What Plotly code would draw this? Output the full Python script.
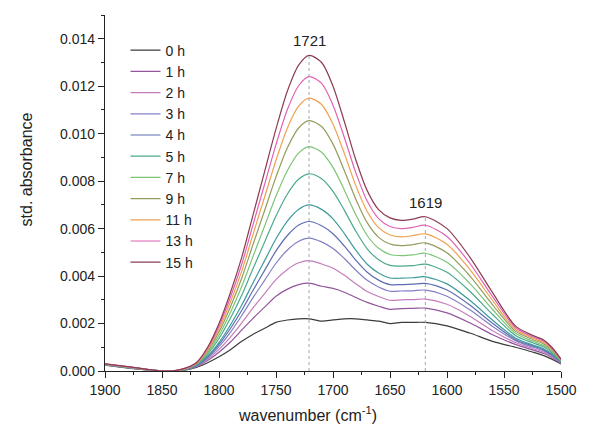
import numpy as np
import plotly.graph_objects as go

# wavenumber grid (cm-1)
wavenumber = [1900, 1875, 1850, 1835, 1820, 1810, 1800, 1790, 1780, 1770, 1760, 1750, 1740,
              1730, 1721, 1710, 1700, 1690, 1680, 1670, 1660, 1650, 1640, 1630, 1619, 1600,
              1580, 1560, 1540, 1525, 1515, 1508, 1500]

# standardized absorbance values (x 1e-3), lowest to highest curve
s00 = [.25, .10, 0, 0, .15, .35, .60, .90, 1.25, 1.55, 1.80, 2.05, 2.15, 2.20, 2.20, 2.10, 2.15, 2.20, 2.20, 2.15, 2.10, 2.00, 2.05, 2.05, 2.05, 1.90, 1.60, 1.25, 1.00, .80, .65, .50, .30]
s01 = [.26, .11, 0, .01, .18, .44, .79, 1.22, 1.73, 2.23, 2.69, 3.15, 3.45, 3.64, 3.70, 3.57, 3.48, 3.32, 3.10, 2.89, 2.73, 2.60, 2.63, 2.64, 2.65, 2.45, 2.03, 1.53, 1.12, .89, .74, .57, .33]
s02 = [.26, .11, 0, .01, .19, .49, .91, 1.43, 2.03, 2.67, 3.26, 3.85, 4.28, 4.56, 4.65, 4.51, 4.33, 4.03, 3.68, 3.35, 3.14, 2.98, 3.00, 3.01, 3.03, 2.81, 2.31, 1.70, 1.20, .95, .79, .61, .34]
s03 = [.27, .12, 0, .02, .21, .55, 1.03, 1.63, 2.34, 3.10, 3.82, 4.54, 5.10, 5.47, 5.60, 5.44, 5.16, 4.74, 4.25, 3.82, 3.54, 3.36, 3.37, 3.38, 3.41, 3.15, 2.58, 1.88, 1.28, 1.01, .85, .65, .36]
s04 = [.27, .12, 0, .02, .22, .59, 1.12, 1.79, 2.56, 3.41, 4.24, 5.06, 5.71, 6.15, 6.30, 6.12, 5.78, 5.26, 4.67, 4.16, 3.83, 3.64, 3.64, 3.66, 3.69, 3.41, 2.78, 2.01, 1.33, 1.06, .89, .68, .37]
s05 = [.27, .12, 0, .02, .24, .63, 1.20, 1.94, 2.78, 3.73, 4.65, 5.57, 6.32, 6.82, 7.00, 6.81, 6.41, 5.79, 5.09, 4.50, 4.13, 3.92, 3.91, 3.93, 3.97, 3.67, 2.98, 2.14, 1.39, 1.10, .93, .72, .39]
s06 = [.28, .13, 0, .03, .26, .71, 1.37, 2.22, 3.20, 4.33, 5.43, 6.53, 7.46, 8.09, 8.31, 8.10, 7.57, 6.77, 5.89, 5.15, 4.69, 4.45, 4.42, 4.44, 4.50, 4.16, 3.36, 2.38, 1.50, 1.19, 1.01, .78, .41]
s07 = [.28, .13, 0, .03, .28, .77, 1.51, 2.47, 3.57, 4.85, 6.11, 7.37, 8.45, 9.19, 9.45, 9.22, 8.58, 7.62, 6.58, 5.71, 5.17, 4.91, 4.86, 4.89, 4.96, 4.58, 3.69, 2.59, 1.59, 1.26, 1.07, .83, .43]
s08 = [.29, .14, 0, .04, .30, .84, 1.65, 2.70, 3.92, 5.35, 6.76, 8.18, 9.41, 10.25, 10.55, 10.30, 9.56, 8.44, 7.24, 6.25, 5.63, 5.35, 5.28, 5.32, 5.40, 4.98, 4.01, 2.79, 1.68, 1.33, 1.14, .88, .45]
s09 = [.29, .14, 0, .04, .32, .89, 1.77, 2.91, 4.22, 5.78, 7.33, 8.88, 10.24, 11.17, 11.50, 11.23, 10.40, 9.16, 7.81, 6.72, 6.04, 5.73, 5.65, 5.70, 5.78, 5.34, 4.28, 2.97, 1.75, 1.39, 1.19, .92, .47]
s10 = [.30, .15, 0, .05, .33, .95, 1.89, 3.11, 4.51, 6.19, 7.87, 9.54, 11.02, 12.03, 12.40, 12.12, 11.20, 9.83, 8.36, 7.16, 6.42, 6.09, 6.00, 6.05, 6.14, 5.67, 4.54, 3.13, 1.83, 1.44, 1.25, .96, .48]
s11 = [.30, .15, 0, .05, .35, 1.00, 2.00, 3.30, 4.80, 6.60, 8.40, 10.20, 11.80, 12.90, 13.30, 13.00, 12.00, 10.50, 8.90, 7.60, 6.80, 6.45, 6.35, 6.40, 6.50, 6.00, 4.80, 3.30, 1.90, 1.50, 1.30, 1.00, .50]

series = [s00, s01, s02, s03, s04, s05, s06, s07, s08, s09, s10, s11]
labels = ["0 h", "1 h", "2 h", "3 h", "4 h", None, "5 h", "7 h", "9 h", "11 h", "13 h", "15 h"]
colors = ["#3c3c3c", "#93559c", "#c47cbc", "#8480c4", "#5d6db4", "#3f9a9a",
          "#4aa98c", "#7cc576", "#949c5c", "#f0a050", "#e062b4", "#8c3c52"]

peak_positions = [1721, 1619]
peak_labels = ["1721", "1619"]

fig = go.Figure()
for s, lab, col in zip(series, labels, colors):
    fig.add_trace(go.Scatter(
        x=wavenumber, y=np.array(s) * 1e-3, mode="lines",
        line=dict(color=col, width=1.2, shape="spline", smoothing=0.8),
        name=lab if lab else "extra", showlegend=lab is not None))

top = np.array(s11) * 1e-3
for p, pl in zip(peak_positions, peak_labels):
    ytop = top[wavenumber.index(p)]
    fig.add_trace(go.Scatter(x=[p, p], y=[0, ytop], mode="lines",
                             line=dict(color="#9aa6bc", width=1, dash="dot"),
                             showlegend=False, hoverinfo="skip"))
    fig.add_annotation(x=p, y=ytop, text=pl, showarrow=False, yanchor="bottom", yshift=4,
                       font=dict(size=15, color="#222"))

axis_common = dict(showline=True, linecolor="#222", linewidth=1.2, ticks="outside",
                   ticklen=6, tickwidth=1.2, tickcolor="#222", showgrid=False, zeroline=False,
                   tickfont=dict(size=14, color="#222"),
                   minor=dict(ticks="outside", ticklen=3, tickwidth=1.2, tickcolor="#222"))

fig.update_xaxes(range=[1900, 1500], dtick=50, minor_dtick=25, **axis_common)
fig.update_yaxes(range=[0, 0.015], dtick=0.002, tickformat=".3f", minor_dtick=0.001, **axis_common)

fig.add_annotation(xref="paper", yref="paper", x=0.444, y=-0.12, text="wavenumber (cm<sup>-1</sup>)",
                   showarrow=False, font=dict(size=16, color="#222"), yanchor="middle")
fig.add_annotation(xref="paper", yref="paper", x=-0.172, y=0.565, text="std. absorbance",
                   textangle=-90, showarrow=False, font=dict(size=16, color="#222"), xanchor="center")

fig.update_layout(
    width=589, height=436,
    margin=dict(l=105, r=20, t=15, b=65),
    plot_bgcolor="white", paper_bgcolor="white",
    font=dict(family="Liberation Sans, Arial, sans-serif", color="#222"),
    legend=dict(x=0.045, y=0.945, xanchor="left", yanchor="top", bgcolor="rgba(0,0,0,0)",
                font=dict(size=14, color="#222"), tracegroupgap=0, itemwidth=30),
    showlegend=True,
)

fig.write_html("out.html")
